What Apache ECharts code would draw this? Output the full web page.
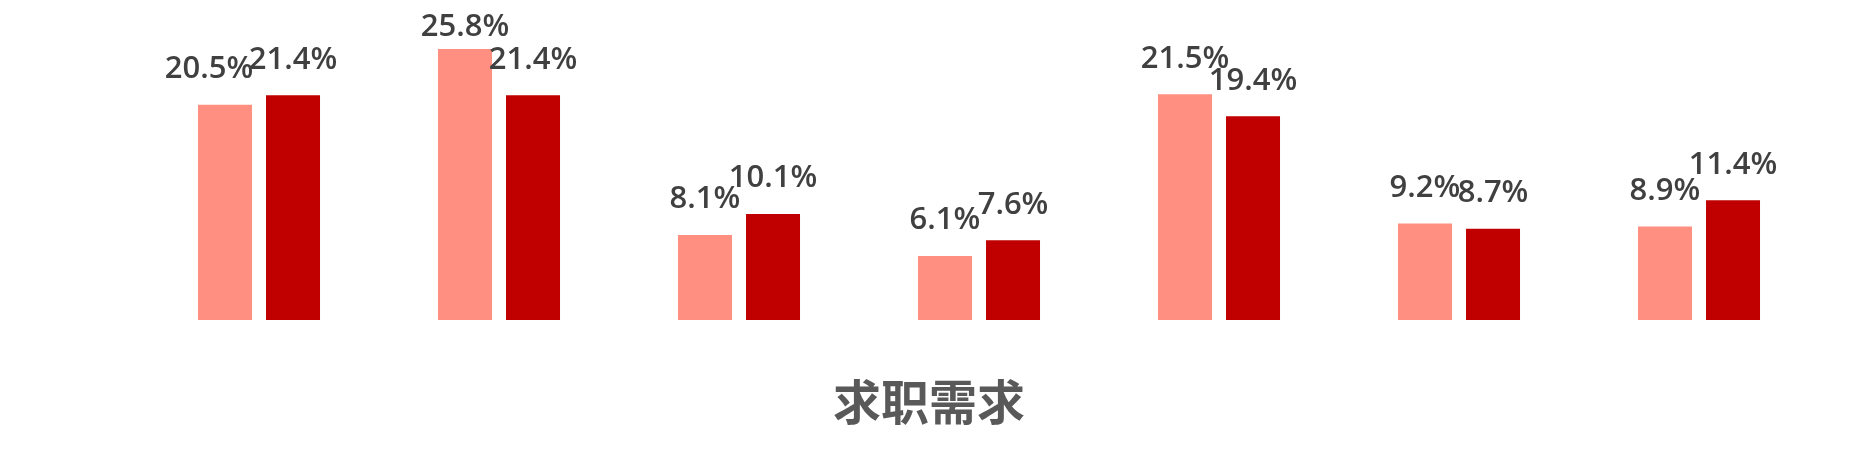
<!DOCTYPE html>
<html>
<head>
<meta charset="utf-8">
<script src="https://cdn.jsdelivr.net/npm/echarts@6/dist/echarts.min.js"></script>
<style>
html,body{margin:0;padding:0;background:#fff;}
#main{width:1858px;height:450px;}
</style>
</head>
<body>
<div id="main"></div>
<script>
const categories = ['类别1','类别2','类别3','类别4','类别5','类别6','类别7'];
const seriesNames = ['系列1','系列2'];
const valuesA = [20.5, 25.8, 8.1, 6.1, 21.5, 9.2, 8.9];
const valuesB = [21.4, 21.4, 10.1, 7.6, 19.4, 8.7, 11.4];
const titleText = '求职需求';

const labelFont = '"Open Sans", "Noto Sans", sans-serif';
const fmt = p => p.value.toFixed(1) + '%';

const dataA = valuesA.map((v, i) => {
  const item = { value: v };
  if (i === 0) item.label = { offset: [-16, 0] };
  if (i === 1) item.label = { offset: [0, 14] };
  return item;
});

const labelStyle = {
  show: true,
  position: 'top',
  distance: 20,
  formatter: fmt,
  fontFamily: labelFont,
  fontSize: 31,
  fontWeight: 600,
  color: '#404040'
};

const chart = echarts.init(document.getElementById('main'));
chart.setOption({
  animation: false,
  backgroundColor: '#ffffff',
  title: {
    text: titleText,
    left: 'center',
    top: 373,
    textStyle: {
      fontFamily: '"Noto Sans CJK SC", sans-serif',
      fontSize: 48,
      fontWeight: 'bold',
      color: '#595959'
    }
  },
  grid: { left: 139, right: 39, top: 5, bottom: 130 },
  xAxis: {
    type: 'category',
    data: categories,
    axisLine: { show: false },
    axisTick: { show: false },
    axisLabel: { show: false },
    splitLine: { show: false }
  },
  yAxis: {
    type: 'value',
    min: 0,
    max: 30,
    show: false
  },
  series: [
    {
      name: seriesNames[0],
      type: 'bar',
      data: dataA,
      barWidth: 54,
      barGap: '26%',
      itemStyle: { color: '#FF8F80' },
      label: labelStyle
    },
    {
      name: seriesNames[1],
      type: 'bar',
      data: valuesB,
      barWidth: 54,
      barGap: '26%',
      itemStyle: { color: '#C00000' },
      label: labelStyle
    }
  ]
});
</script>
</body>
</html>
